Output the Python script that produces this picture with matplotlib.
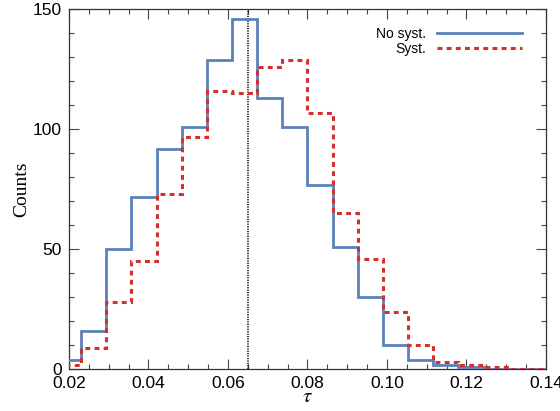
import matplotlib
matplotlib.use('Agg')
import matplotlib.pyplot as plt
from matplotlib.ticker import MultipleLocator

# bin edges of the histograms (first one is clipped by the x range)
edges = [0.01670, 0.02303, 0.02936, 0.03569, 0.04202, 0.04835, 0.05468,
         0.06101, 0.06734, 0.07367, 0.08000, 0.08633, 0.09266, 0.09899,
         0.10532, 0.11165, 0.11798, 0.12431, 0.13064, 0.13697, 0.14330]
no_syst = [4, 16, 50, 72, 92, 101, 129, 146, 113, 101, 77, 51, 30, 10,
           4, 2, 1, 0, 0, 0]
syst = [2, 9, 28, 45, 73, 97, 116, 115, 126, 129, 107, 65, 46, 24,
        10, 3, 2, 1, 0, 0]
tau_true = 0.065

plt.rcParams['font.family'] = 'Liberation Sans'
plt.rcParams['mathtext.fontset'] = 'stix'

fig = plt.figure(figsize=(5.6, 4.11), dpi=100)
ax = fig.add_axes([0.1232, 0.1012, 0.8518, 0.8762])

ax.stairs(no_syst, edges, baseline=None, color='#5a82b8', lw=2.0,
          label='No syst.', zorder=3)
ax.stairs(syst, edges, baseline=None, color='#d0302e', lw=2.2,
          ls=(0, (1.6, 1.4)), label='Syst.', zorder=4)
ax.axvline(tau_true, color='black', lw=1.1, ls=(0, (0.8, 0.8)), zorder=2)

ax.set_xlim(0.02, 0.14)
ax.set_ylim(0, 150)
ax.xaxis.set_major_locator(MultipleLocator(0.02))
ax.xaxis.set_minor_locator(MultipleLocator(0.005))
ax.yaxis.set_major_locator(MultipleLocator(50))
ax.yaxis.set_minor_locator(MultipleLocator(10))
ax.xaxis.set_major_formatter(plt.FuncFormatter(lambda v, p: '%.2f' % v))
ax.tick_params(which='both', direction='in', top=True, right=True,
               labelsize=12.5, width=0.8, color='#444444')
ax.tick_params(which='major', length=7, pad=5)
ax.tick_params(which='minor', length=3.5)
for s in ax.spines.values():
    s.set_linewidth(0.9)
    s.set_color('#333333')

ax.set_ylabel('Counts', family='Liberation Serif', fontsize=14, labelpad=2)
ax.set_xlabel(r'$\tau$', fontsize=15, labelpad=-3)

leg = ax.legend(loc='upper right', bbox_to_anchor=(0.975, 0.985),
                frameon=False, markerfirst=False, fontsize=10,
                handlelength=6.1, handletextpad=0.8, labelspacing=0.05)
for t in leg.get_texts():
    t.set_ha('right')

fig.savefig('out.png', dpi=100)
